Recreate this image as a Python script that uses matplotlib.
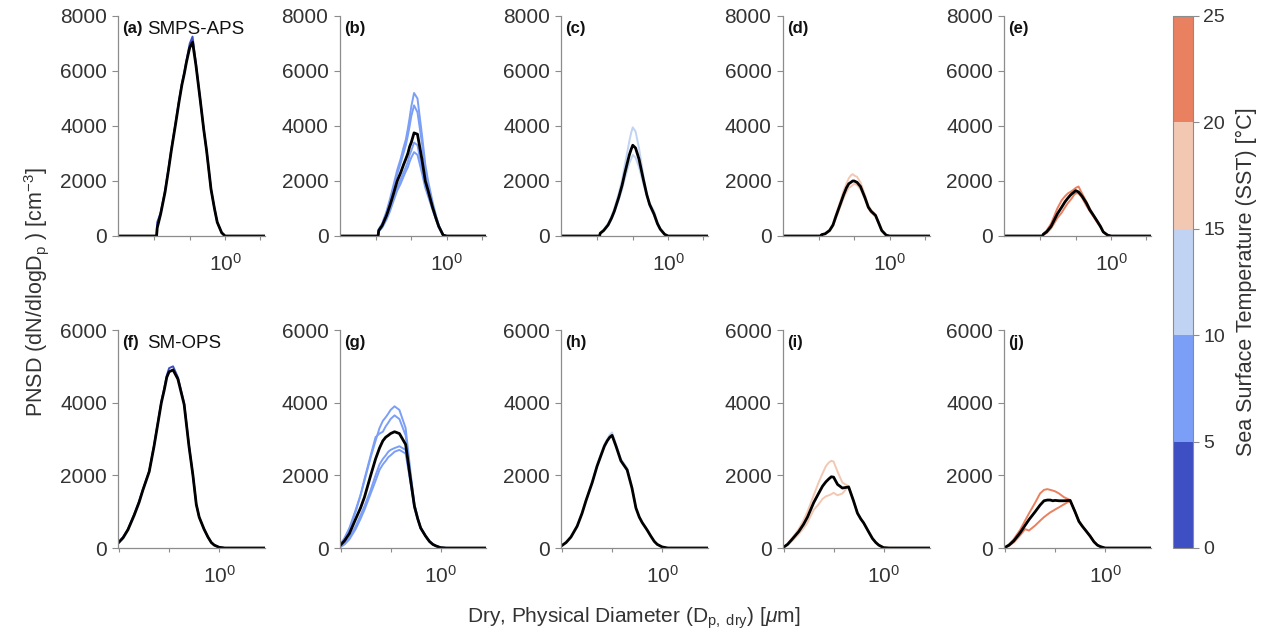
import matplotlib.pyplot as plt
from matplotlib.colors import ListedColormap, BoundaryNorm
from matplotlib.cm import ScalarMappable
from matplotlib.ticker import NullLocator

plt.rcParams['font.family'] = ['Liberation Sans', 'DejaVu Sans']
plt.rcParams['mathtext.fontset'] = 'custom'
plt.rcParams['mathtext.rm'] = 'Liberation Sans'
plt.rcParams['mathtext.it'] = 'Liberation Sans:italic'

# SST bins and colours of the colourbar
sst_bounds = [0, 5, 10, 15, 20, 25]
sst_colors = ['#3d4fc2', '#7b9ef6', '#c0d3f3', '#f3c8b3', '#e9805f']

# diameters (um) for top row (SMPS-APS) and bottom row (SM-OPS)
dp_top = [0.001, 0.0115, 0.012, 0.015, 0.02, 0.025, 0.03, 0.04, 0.05, 0.06, 0.07, 0.08, 0.09,
          0.1, 0.12, 0.15, 0.2, 0.25, 0.3, 0.4, 0.5, 0.6, 0.8, 1.0, 1.3, 13.5]
dp_bot = [0.0095, 0.012, 0.015, 0.02, 0.025, 0.03, 0.04, 0.05, 0.06, 0.07, 0.08, 0.09, 0.1,
          0.12, 0.15, 0.2, 0.25, 0.3, 0.35, 0.4, 0.5, 0.6, 0.7, 0.8, 1.0, 1.3, 2.0, 8.4]

# top row: mean (black) and individual runs (coloured)
a_mean = [0, 0, 300, 800, 1600, 2400, 3100, 4100, 4900, 5500, 5900, 6300, 6600, 6850, 7050, 6200, 4900, 3850, 3100, 1700, 1000, 500, 120, 0, 0, 0]
a_runs = [[0, 0, 500, 850, 1650, 2450, 3150, 4150, 4950, 5550, 5950, 6350, 6700, 7000, 7250, 6250, 4900, 3850, 3100, 1700, 1000, 500, 120, 0, 0, 0]]

b_mean = [0, 0, 200, 380, 750, 1120, 1450, 2000, 2300, 2580, 2800, 3000, 3250, 3400, 3750, 3700, 2800, 2000, 1650, 1050, 650, 350, 30, 0, 0, 0]
b_runs = [[0, 0, 250, 450, 900, 1350, 1750, 2400, 2800, 3200, 3500, 3900, 4300, 4700, 5200, 5000, 3700, 2600, 2000, 1250, 750, 400, 40, 0, 0, 0],
          [0, 0, 230, 420, 850, 1250, 1650, 2250, 2650, 3000, 3300, 3650, 4000, 4350, 4750, 4500, 3400, 2400, 1850, 1150, 700, 380, 40, 0, 0, 0],
          [0, 0, 180, 330, 650, 980, 1300, 1750, 2050, 2300, 2500, 2700, 2950, 3100, 3400, 3300, 2500, 1850, 1500, 1000, 620, 330, 30, 0, 0, 0],
          [0, 0, 160, 300, 600, 900, 1200, 1650, 1900, 2150, 2350, 2500, 2700, 2850, 3050, 2950, 2300, 1750, 1450, 950, 600, 320, 30, 0, 0, 0]]

c_mean = [0, 0, 100, 200, 400, 650, 900, 1400, 1850, 2300, 2650, 2950, 3150, 3300, 3200, 2800, 2050, 1500, 1150, 800, 450, 250, 60, 0, 0, 0]
c_runs = [[0, 0, 120, 230, 450, 720, 1000, 1550, 2050, 2600, 3050, 3450, 3750, 3950, 3800, 3200, 2200, 1500, 1100, 750, 420, 230, 50, 0, 0, 0],
          [0, 0, 90, 180, 370, 600, 850, 1300, 1700, 2100, 2400, 2650, 2800, 2950, 2850, 2500, 1900, 1450, 1200, 900, 500, 270, 60, 0, 0, 0]]

d_mean = [0, 0, 50, 80, 200, 400, 700, 1150, 1500, 1750, 1900, 1950, 2000, 2000, 1950, 1800, 1400, 1050, 900, 750, 450, 200, 30, 0, 0, 0]
d_runs = [[0, 0, 60, 100, 230, 450, 780, 1250, 1650, 1900, 2100, 2200, 2250, 2200, 2150, 1950, 1500, 1100, 950, 780, 480, 220, 40, 0, 0, 0],
          [0, 0, 40, 70, 180, 360, 640, 1050, 1380, 1600, 1750, 1800, 1850, 1900, 1850, 1700, 1350, 1000, 850, 700, 420, 190, 30, 0, 0, 0]]

e_mean = [0, 0, 60, 150, 350, 600, 800, 1050, 1250, 1380, 1480, 1550, 1600, 1650, 1600, 1450, 1200, 950, 800, 550, 350, 150, 30, 0, 0, 0]
e_runs = [[0, 0, 80, 200, 450, 750, 1000, 1300, 1450, 1550, 1600, 1650, 1700, 1750, 1800, 1550, 1250, 1000, 800, 550, 350, 150, 30, 0, 0, 0],
          [0, 0, 40, 110, 280, 480, 650, 850, 1050, 1200, 1300, 1400, 1500, 1550, 1550, 1400, 1100, 900, 750, 500, 320, 140, 30, 0, 0, 0]]

# bottom row
f_mean = [130, 280, 500, 900, 1250, 1600, 2100, 2800, 3450, 4000, 4350, 4700, 4850, 4900, 4650, 3950, 2800, 2000, 1200, 850, 520, 300, 150, 80, 20, 0, 0, 0]
f_runs = [[150, 300, 520, 930, 1280, 1620, 2120, 2830, 3480, 4030, 4400, 4750, 4950, 5000, 4700, 3980, 2820, 2000, 1200, 850, 520, 300, 150, 80, 20, 0, 0, 0]]

g_mean = [50, 200, 400, 800, 1100, 1400, 2000, 2450, 2750, 2950, 3050, 3100, 3150, 3200, 3150, 2850, 1900, 1150, 800, 550, 330, 180, 100, 60, 10, 0, 0, 0]
g_runs = [[60, 280, 550, 1050, 1450, 1850, 2500, 2950, 3300, 3500, 3600, 3700, 3800, 3900, 3800, 3300, 2100, 1200, 820, 560, 330, 180, 100, 60, 10, 0, 0, 0],
          [50, 250, 520, 1000, 1450, 1900, 2550, 3050, 3150, 3200, 3350, 3450, 3550, 3650, 3550, 3100, 2000, 1180, 810, 555, 330, 180, 100, 60, 10, 0, 0, 0],
          [20, 120, 280, 600, 900, 1150, 1600, 2000, 2300, 2450, 2550, 2650, 2700, 2750, 2800, 2700, 1850, 1130, 790, 550, 330, 180, 100, 60, 10, 0, 0, 0],
          [10, 100, 240, 520, 800, 1050, 1500, 1850, 2150, 2300, 2400, 2500, 2550, 2650, 2700, 2600, 1800, 1100, 780, 545, 330, 180, 100, 60, 10, 0, 0, 0]]

h_mean = [50, 150, 300, 600, 950, 1300, 1800, 2250, 2550, 2800, 2950, 3050, 3100, 2800, 2400, 2150, 1650, 1100, 850, 700, 500, 320, 180, 100, 30, 0, 0, 0]
h_runs = [[60, 170, 320, 620, 980, 1330, 1830, 2290, 2600, 2850, 3000, 3120, 3180, 2850, 2450, 2200, 1680, 1120, 860, 710, 505, 320, 180, 100, 30, 0, 0, 0]]

i_mean = [0, 100, 250, 450, 650, 850, 1250, 1500, 1700, 1820, 1900, 1960, 1950, 1750, 1650, 1680, 1300, 960, 800, 690, 450, 260, 150, 80, 10, 0, 0, 0]
i_runs = [[0, 120, 280, 520, 760, 1000, 1450, 1800, 2050, 2250, 2350, 2400, 2380, 2100, 1800, 1700, 1310, 965, 805, 695, 455, 262, 150, 80, 10, 0, 0, 0],
          [0, 80, 200, 380, 540, 700, 1050, 1200, 1350, 1420, 1450, 1480, 1520, 1450, 1500, 1700, 1290, 955, 800, 690, 450, 260, 150, 80, 10, 0, 0, 0]]

j_mean = [0, 80, 200, 420, 620, 780, 1000, 1180, 1300, 1320, 1320, 1300, 1310, 1300, 1300, 1310, 1000, 730, 600, 500, 330, 170, 80, 40, 0, 0, 0, 0]
j_runs = [[0, 100, 250, 500, 750, 950, 1250, 1500, 1600, 1620, 1600, 1580, 1560, 1500, 1400, 1320, 1010, 740, 605, 505, 335, 175, 85, 40, 0, 0, 0, 0],
          [0, 60, 160, 350, 520, 480, 620, 750, 850, 920, 980, 1020, 1060, 1120, 1200, 1300, 1000, 730, 600, 500, 330, 170, 80, 40, 0, 0, 0, 0]]

top_panels = [('(a)', 'SMPS-APS', a_mean, a_runs), ('(b)', '', b_mean, b_runs),
              ('(c)', '', c_mean, c_runs), ('(d)', '', d_mean, d_runs), ('(e)', '', e_mean, e_runs)]
bot_panels = [('(f)', 'SM-OPS', f_mean, f_runs), ('(g)', '', g_mean, g_runs),
              ('(h)', '', h_mean, h_runs), ('(i)', '', i_mean, i_runs), ('(j)', '', j_mean, j_runs)]

W, H = 1267, 638
fig = plt.figure(figsize=(W / 100, H / 100), dpi=100)

col_left = [118, 339.5, 561, 782.5, 1004]
ax_w = 147
spine_col = '#8c8c8c'
txt_col = '#333333'


def style(ax, xlim, xticks, xlabels, ylim, yticks):
    ax.set_xscale('log')
    ax.set_xlim(xlim)
    ax.set_ylim(ylim)
    ax.set_xticks(xticks)
    ax.set_xticklabels(xlabels)
    ax.xaxis.set_minor_locator(NullLocator())
    ax.set_yticks(yticks)
    ax.set_yticklabels([str(v) for v in yticks])
    for s in ['top', 'right']:
        ax.spines[s].set_visible(False)
    for s in ['left', 'bottom']:
        ax.spines[s].set_color(spine_col)
        ax.spines[s].set_linewidth(0.9)
    ax.tick_params(axis='y', direction='out', length=4, color=spine_col, labelsize=15, labelcolor=txt_col, pad=4)
    ax.tick_params(axis='x', direction='out', length=3, color=spine_col, labelsize=15, labelcolor=txt_col, pad=9)
    ax.set_facecolor('none')


rows = [
    (top_panels, dp_top, 16, 236, (0.00093, 13.5), [0.01, 0.1, 1, 10], ['', '', '$10^0$', ''], 8000),
    (bot_panels, dp_bot, 330, 548, (0.0095, 8.3), [0.01, 0.1, 1], ['', '', '$10^0$'], 6000),
]

for panels, dp, ytop, ybot, xlim, xt, xtl, ymax in rows:
    for k, (tag, name, mean, runs) in enumerate(panels):
        ax = fig.add_axes([col_left[k] / W, 1 - ybot / H, ax_w / W, (ybot - ytop) / H])
        for run in runs:
            ax.plot(dp, run, color=sst_colors[k], lw=1.4, solid_joinstyle='round')
        ax.plot(dp, mean, color='black', lw=2.0, solid_joinstyle='round')
        style(ax, xlim, xt, xtl, (0, ymax), list(range(0, ymax + 1, 2000)))
        ax.text(0.03, 0.975, tag, transform=ax.transAxes, fontsize=12, fontweight='bold',
                va='top', ha='left', color='#111111')
        if name:
            ax.text(0.2, 0.975, name, transform=ax.transAxes, fontsize=13.5,
                    va='top', ha='left', color='#111111')

fig.text(37 / W, 1 - 292 / H, 'PNSD (dN/dlogD$_{\\mathrm{p}}$ ) [cm$^{-3}$]', rotation=90,
         ha='center', va='center', fontsize=15.5, color=txt_col)
fig.text(634 / W, 1 - 618 / H, 'Dry, Physical Diameter (D$_{\\mathrm{p,\\ dry}}$) [$\\mu$m]',
         ha='center', va='center', fontsize=15, color=txt_col)

# colourbar
cmap = ListedColormap(sst_colors)
norm = BoundaryNorm(sst_bounds, cmap.N)
cax = fig.add_axes([1173 / W, 1 - 548 / H, 20 / W, 532 / H])
cb = fig.colorbar(ScalarMappable(norm=norm, cmap=cmap), cax=cax, ticks=sst_bounds)
cb.outline.set_edgecolor(spine_col)
cb.outline.set_linewidth(0.8)
cax.tick_params(labelsize=14, labelcolor=txt_col, color=spine_col, length=4, width=0.8)
cb.set_label('Sea Surface Temperature (SST) [°C]', fontsize=15.5, color=txt_col, labelpad=8)

fig.savefig('out.png', dpi=100)
